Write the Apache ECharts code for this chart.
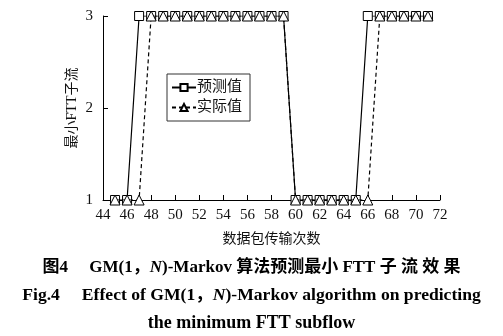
<!DOCTYPE html>
<html>
<head>
<meta charset="utf-8">
<script src="https://cdn.jsdelivr.net/npm/echarts@6/dist/echarts.min.js"></script>
<style>
  html, body { margin: 0; padding: 0; background: #fff; }
  #chart { width: 503px; height: 336px; }
</style>
</head>
<body>
<div id="chart"></div>
<script>
// Packet transmission index (x) and minimum-FTT subflow id
const transmissions = [45, 46, 47, 48, 49, 50, 51, 52, 53, 54, 55, 56, 57, 58, 59, 60, 61, 62, 63, 64, 65, 66, 67, 68, 69, 70, 71];
const predicted     = [1, 1, 3, 3, 3, 3, 3, 3, 3, 3, 3, 3, 3, 3, 3, 1, 1, 1, 1, 1, 1, 3, 3, 3, 3, 3, 3];
const actual        = [1, 1, 1, 3, 3, 3, 3, 3, 3, 3, 3, 3, 3, 3, 3, 1, 1, 1, 1, 1, 1, 1, 3, 3, 3, 3, 3];
const yTicks = [1, 2, 3];

const serif = '"Liberation Serif", "Times New Roman", "Noto Sans CJK SC", serif';

const chart = echarts.init(document.getElementById('chart'), null, { renderer: 'canvas' });

function pairs(ys) { return transmissions.map((x, i) => [x, ys[i]]); }

// caption styles: bold serif, italic N
function capRich(size) {
  return {
    b: { fontFamily: serif, fontWeight: 'bold', fontSize: size, color: '#111' },
    i: { fontFamily: serif, fontWeight: 'bold', fontStyle: 'italic', fontSize: size, color: '#111' }
  };
}

chart.setOption({
  backgroundColor: '#fff',
  animation: false,
  grid: { left: 103, right: 63, top: 16, bottom: 136 },
  xAxis: {
    type: 'value', min: 44, max: 72, interval: 2,
    axisLine: { lineStyle: { color: '#000', width: 1 } },
    axisTick: { inside: true, length: 5, lineStyle: { color: '#000' } },
    axisLabel: { color: '#111', fontFamily: serif, fontSize: 15, margin: 8 },
    splitLine: { show: false },
    name: '数据包传输次数', nameLocation: 'middle', nameGap: 32,
    nameTextStyle: { color: '#111', fontFamily: serif, fontSize: 14 }
  },
  yAxis: {
    type: 'value', min: 1, max: 3, interval: 1,
    axisLine: { show: true, lineStyle: { color: '#000', width: 1 } },
    axisTick: { show: true, inside: true, length: 5, lineStyle: { color: '#000' } },
    axisLabel: { color: '#111', fontFamily: serif, fontSize: 15, margin: 10,
                 formatter: v => yTicks.includes(v) ? String(v) : '' },
    splitLine: { show: false },
    name: '最小FTT子流', nameLocation: 'middle', nameGap: 24, nameRotate: 90,
    nameMoveOverlap: false,
    nameTextStyle: { color: '#111', fontFamily: serif, fontSize: 14 }
  },
  legend: {
    left: 167, top: 74, orient: 'vertical',
    itemWidth: 24, itemHeight: 9, itemGap: 5,
    padding: [6, 8, 6, 4],
    borderColor: '#333', borderWidth: 1,
    textStyle: { color: '#111', fontFamily: serif, fontSize: 15, padding: [0, 0, 0, -4] },
    data: ['预测值', '实际值']
  },
  series: [
    {
      name: '预测值', type: 'line', data: pairs(predicted),
      symbol: 'rect', symbolSize: 9, showAllSymbol: true,
      itemStyle: { color: '#fff', borderColor: '#000', borderWidth: 1 },
      lineStyle: { color: '#000', width: 1.2, type: 'solid' },
      z: 3
    },
    {
      name: '实际值', type: 'line', data: pairs(actual),
      symbol: 'triangle', symbolSize: 10, showAllSymbol: true,
      itemStyle: { color: '#fff', borderColor: '#000', borderWidth: 1 },
      lineStyle: { color: '#000', width: 1.2, type: [4, 3] },
      z: 4
    }
  ],
  graphic: [
    { type: 'text', left: 'center', top: 259,
      style: { text: '{b|图4　 GM(1，}{i|N}{b|)-Markov 算法预测最小 FTT 子 流 效 果}',
               rich: capRich(17) } },
    { type: 'text', left: 'center', top: 287,
      style: { text: '{b|Fig.4　 Effect of GM(1，}{i|N}{b|)-Markov algorithm on predicting}',
               rich: capRich(17.6) } },
    { type: 'text', left: 'center', top: 314,
      style: { text: '{b|the minimum FTT subflow}', rich: capRich(18) } }
  ]
});
</script>
</body>
</html>
